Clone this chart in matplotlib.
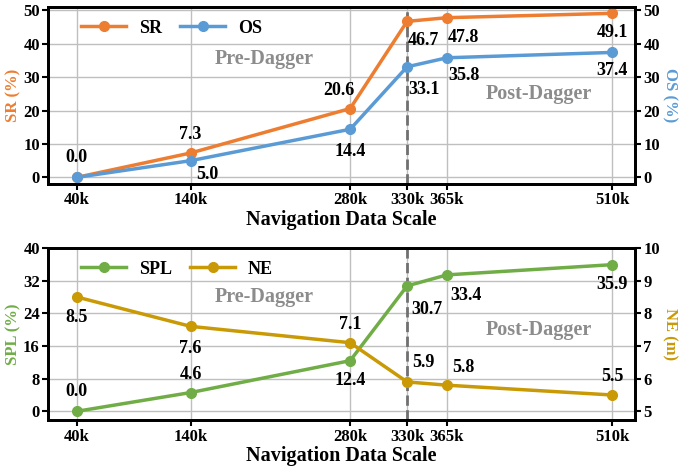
import matplotlib.pyplot as plt

plt.rcParams['font.family'] = ['Liberation Serif', 'DejaVu Serif']
plt.rcParams['font.weight'] = 'bold'

scale = [40, 140, 280, 330, 365, 510]
scale_labels = ['40k', '140k', '280k', '330k', '365k', '510k']
sr = [0.0, 7.3, 20.6, 46.7, 47.8, 49.1]
os_ = [0.0, 5.0, 14.4, 33.1, 35.8, 37.4]
spl = [0.0, 4.6, 12.4, 30.7, 33.4, 35.9]
ne = [8.5, 7.6, 7.1, 5.9, 5.8, 5.5]

c_sr = '#ED7D31'
c_os = '#5B9BD5'
c_spl = '#70AD47'
c_ne = '#C99A06'

fig = plt.figure(figsize=(6.88, 4.66), dpi=100)
ax1 = fig.add_axes([0.07, 0.605, 0.853, 0.38])
ax2 = fig.add_axes([0.07, 0.098, 0.853, 0.37])


def style(ax):
    for s in ax.spines.values():
        s.set_linewidth(2)
    ax.tick_params(labelsize=12, width=1.5, length=4, pad=2)
    for lab in ax.get_xticklabels() + ax.get_yticklabels():
        lab.set_fontweight('bold')


def annotate(ax, xs, ys, offs, vals=None):
    vals = ys if vals is None else vals
    for x, y, v, o in zip(xs, ys, vals, offs):
        if o is None:
            continue
        ax.annotate(f'{v:.1f}', (x, y), xytext=o, textcoords='offset points',
                    ha='center', va='center', fontsize=13, fontweight='bold')


# top panel
ax1.grid(True, color='#bfbfbf', linewidth=1)
ax1.set_axisbelow(True)
l1, = ax1.plot(scale, sr, '-o', color=c_sr, lw=2.5, ms=7, label='SR', zorder=3)
l2, = ax1.plot(scale, os_, '-o', color=c_os, lw=2.5, ms=7, label='OS', zorder=3)
ax1.set_xlim(15, 530)
ax1.set_ylim(-2, 51)
ax1.set_yticks([0, 10, 20, 30, 40, 50])
ax1.set_xticks(scale)
ax1.set_xticklabels(scale_labels)
ax1.axvline(330, color='#707070', ls='--', lw=2, zorder=2)
ax1.set_ylabel('SR (%)', color=c_sr, fontsize=12, fontweight='bold', labelpad=1)
ax1.set_xlabel('Navigation Data Scale', fontsize=14.5, fontweight='bold', labelpad=1)
ax1r = ax1.twinx()
ax1r.set_ylim(-2, 51)
ax1r.set_yticks([0, 10, 20, 30, 40, 50])
ax1r.set_ylabel('OS (%)', color=c_os, fontsize=12, fontweight='bold', rotation=270, va='bottom', labelpad=1)
style(ax1)
style(ax1r)
annotate(ax1, scale, sr, [(0, 14), (0, 13), (-8, 13), (12, -14), (12, -14), (0, -14)])
annotate(ax1, scale, os_, [None, (12, -10), (0, -16), (12, -16), (12, -13), (0, -13)])
ax1.text(205, 35.5, 'Pre-Dagger', color='#8c8c8c', fontsize=14.5, fontweight='bold', ha='center', va='center')
ax1.text(446, 25, 'Post-Dagger', color='#8c8c8c', fontsize=14.5, fontweight='bold', ha='center', va='center')
ax1.legend(handles=[l1, l2], loc='upper left', ncol=2, frameon=False,
           prop={'weight': 'bold', 'size': 13}, handlelength=2.5, columnspacing=1.0,
           handletextpad=0.7, bbox_to_anchor=(0.035, 1.0), borderaxespad=0.3)

# bottom panel
ax2.grid(True, color='#bfbfbf', linewidth=1)
ax2.set_axisbelow(True)
l3, = ax2.plot(scale, spl, '-o', color=c_spl, lw=2.5, ms=7, label='SPL', zorder=3)
ax2.set_xlim(15, 530)
ax2.set_ylim(-2.2, 40)
ax2.set_yticks([0, 8, 16, 24, 32, 40])
ax2.set_xticks(scale)
ax2.set_xticklabels(scale_labels)
ax2.axvline(330, color='#707070', ls='--', lw=2, zorder=2)
ax2.set_ylabel('SPL (%)', color=c_spl, fontsize=12, fontweight='bold', labelpad=1)
ax2.set_xlabel('Navigation Data Scale', fontsize=14.5, fontweight='bold', labelpad=1)
ax2r = ax2.twinx()
l4, = ax2r.plot(scale, ne, '-o', color=c_ne, lw=2.5, ms=7, label='NE', zorder=3)
ax2r.set_ylim(4.725, 10)
ax2r.set_yticks([5, 6, 7, 8, 9, 10])
ax2r.set_ylabel('NE (m)', color=c_ne, fontsize=12, fontweight='bold', rotation=270, va='bottom', labelpad=1)
style(ax2)
style(ax2r)
annotate(ax2, scale, spl, [(0, 14), (0, 13), (0, -14), (14, -17), (14, -15), (0, -14)])
annotate(ax2r, scale, ne, [(0, -15), (0, -16), (0, 13), (12, 14), (12, 13), (0, 13)])
ax2.text(205, 28, 'Pre-Dagger', color='#8c8c8c', fontsize=14.5, fontweight='bold', ha='center', va='center')
ax2.text(446, 20, 'Post-Dagger', color='#8c8c8c', fontsize=14.5, fontweight='bold', ha='center', va='center')
ax2.legend(handles=[l3, l4], loc='upper left', ncol=2, frameon=False,
           prop={'weight': 'bold', 'size': 13}, handlelength=2.5, columnspacing=1.0,
           handletextpad=0.7, bbox_to_anchor=(0.035, 1.0), borderaxespad=0.3)

fig.savefig('out.png', dpi=100)
